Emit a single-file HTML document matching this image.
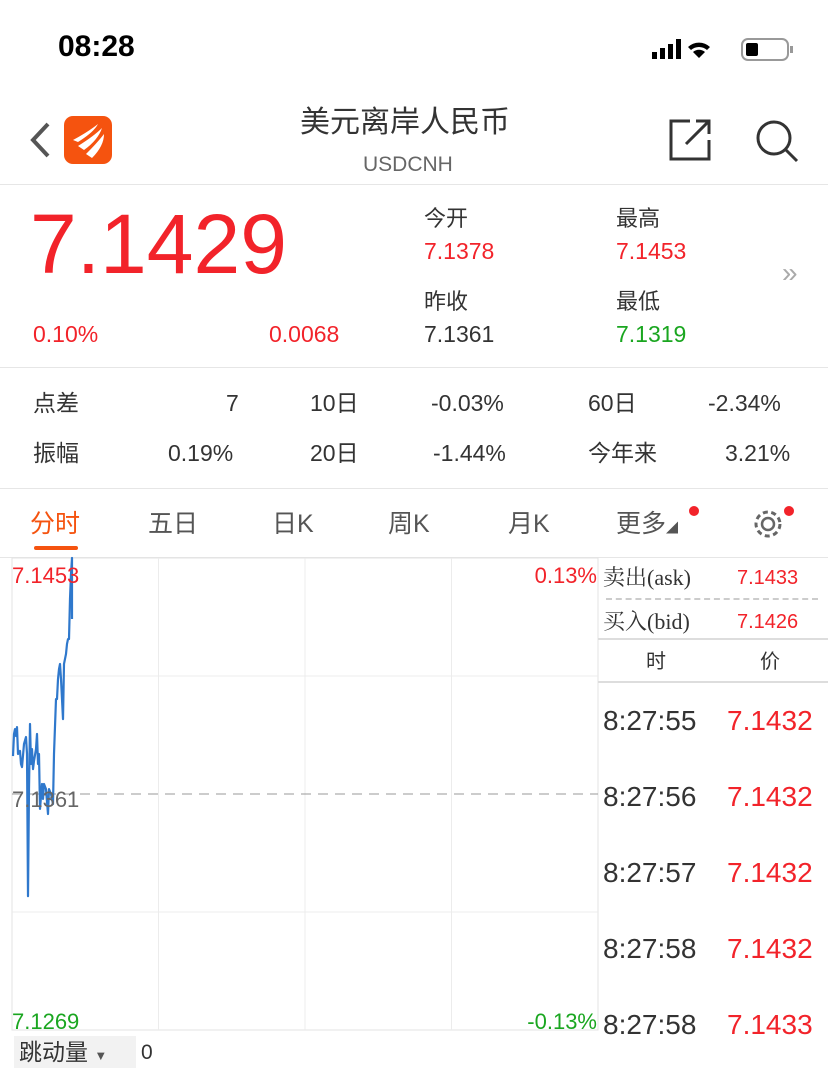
<!DOCTYPE html>
<html><head><meta charset="utf-8"><style>
*{margin:0;padding:0;box-sizing:border-box}
body{width:828px;height:1073px;background:#fff;font-family:"Liberation Sans","Noto Sans CJK SC",sans-serif;color:#333;position:relative;overflow:hidden}
.a{position:absolute;white-space:nowrap;line-height:30px}
.r{color:#f2232a}.g{color:#1aa620}
.hl{position:absolute;height:1px;background:#e6e6e6}
</style></head><body>
<div class="a" style="left:58px;top:32px;font-size:30px;font-weight:bold;color:#000">08:28</div>
<div class="a" style="left:652px;top:38px">
 <svg width="145" height="24"><rect x="0" y="14" width="5" height="7" fill="#000"/><rect x="8" y="10" width="5" height="11" fill="#000"/><rect x="16" y="6" width="5" height="15" fill="#000"/><rect x="24" y="1" width="5" height="20" fill="#000"/>
 <path d="M47 20 L41 14 A9 9 0 0 1 53 14Z M36 9 A16 16 0 0 1 58 9 L55 12 A12 12 0 0 0 39 12Z" fill="#000"/>
 <rect x="90" y="1" width="46" height="21" rx="6" fill="none" stroke="#999" stroke-width="2"/><rect x="94" y="5" width="12" height="13" rx="2" fill="#000"/><rect x="138" y="8" width="3" height="7" fill="#999"/></svg></div>
<svg class="a" style="left:28px;top:120px" width="24" height="40"><path d="M20 4 L5 20 L20 36" stroke="#555" stroke-width="4" fill="none"/></svg>
<div class="a" style="left:64px;top:116px;width:48px;height:48px;border-radius:9px;background:#f5530f"><svg width="48" height="48"><path d="M9 24 Q24 16 34 8 Q30 16 14 26Z M14 30 Q30 20 38 12 Q34 24 20 34Z M22 38 Q34 26 40 18 Q40 30 28 42Z" fill="#fff"/></svg></div>
<div class="a" style="left:300px;top:108px;font-size:30px;color:#333">美元离岸人民币</div>
<div class="a" style="left:363px;top:150px;font-size:21px;color:#666">USDCNH</div>
<svg class="a" style="left:668px;top:118px" width="46" height="44"><path d="M22 3 H3 V41 H41 V22" stroke="#333" stroke-width="3" fill="none"/><path d="M18 26 L41 3 M28 3 H41 V16" stroke="#333" stroke-width="3" fill="none"/></svg>
<svg class="a" style="left:754px;top:118px" width="46" height="46"><circle cx="20" cy="20" r="16" stroke="#333" stroke-width="3" fill="none"/><path d="M32 32 L43 43" stroke="#333" stroke-width="3"/></svg>
<div class="hl" style="left:0;top:184px;width:828px"></div>
<div class="a r" style="left:30px;top:194px;font-size:84px;line-height:100px">7.1429</div>
<div class="a r" style="left:33px;top:319px;font-size:23px">0.10%</div>
<div class="a r" style="left:269px;top:319px;font-size:23px">0.0068</div>
<div class="a" style="left:424px;top:204px;font-size:22px">今开</div>
<div class="a r" style="left:424px;top:236px;font-size:23px">7.1378</div>
<div class="a" style="left:424px;top:287px;font-size:22px">昨收</div>
<div class="a" style="left:424px;top:319px;font-size:23px">7.1361</div>
<div class="a" style="left:616px;top:204px;font-size:22px">最高</div>
<div class="a r" style="left:616px;top:236px;font-size:23px">7.1453</div>
<div class="a" style="left:616px;top:287px;font-size:22px">最低</div>
<div class="a g" style="left:616px;top:319px;font-size:23px">7.1319</div>
<div class="a" style="left:782px;top:258px;font-size:28px;color:#aaa">»</div>
<div class="hl" style="left:0;top:367px;width:828px"></div>
<div style="font-size:23px;color:#333">
<div class="a" style="left:33px;top:388px">点差</div><div class="a" style="left:226px;top:388px">7</div>
<div class="a" style="left:310px;top:388px">10日</div><div class="a" style="left:431px;top:388px">-0.03%</div>
<div class="a" style="left:588px;top:388px">60日</div><div class="a" style="left:708px;top:388px">-2.34%</div>
<div class="a" style="left:33px;top:438px">振幅</div><div class="a" style="left:168px;top:438px">0.19%</div>
<div class="a" style="left:310px;top:438px">20日</div><div class="a" style="left:433px;top:438px">-1.44%</div>
<div class="a" style="left:588px;top:438px">今年来</div><div class="a" style="left:725px;top:438px">3.21%</div>
</div>
<div class="hl" style="left:0;top:488px;width:828px"></div>
<div style="font-size:25px;color:#555">
<div class="a" style="left:30px;top:509px;color:#f5530f">分时</div>
<div class="a" style="left:34px;top:546px;width:44px;height:4px;border-radius:2px;background:#f5530f"></div>
<div class="a" style="left:148px;top:509px">五日</div>
<div class="a" style="left:272px;top:509px">日K</div>
<div class="a" style="left:388px;top:509px">周K</div>
<div class="a" style="left:508px;top:509px">月K</div>
<div class="a" style="left:616px;top:509px">更多<span style="font-size:12px">◢</span></div>
<div class="a" style="left:689px;top:506px;width:10px;height:10px;border-radius:5px;background:#f2232a"></div>
<svg class="a" style="left:752px;top:508px" width="34" height="34"><circle cx="16" cy="16" r="6" stroke="#666" stroke-width="2.5" fill="none"/><circle cx="16" cy="16" r="12" stroke="#666" stroke-width="3" fill="none" stroke-dasharray="5 3.5"/></svg>
<div class="a" style="left:784px;top:506px;width:10px;height:10px;border-radius:5px;background:#f2232a"></div>
</div>
<div class="hl" style="left:0;top:557px;width:828px"></div>
<svg class="a" id="chart" style="left:0;top:0" width="828" height="1073"></svg>
<div class="a" style="left:14px;top:1036px;width:122px;height:32px;background:#f2f2f2;font-size:23px;padding-left:5px;line-height:32px">跳动量 <span style="font-size:13px;color:#555">▼</span></div>
<div class="a" style="left:141px;top:1038px;font-size:21px">0</div>
<div>
<div class="a" style="left:603px;top:563px;font-size:22px;font-family:'Liberation Serif','Noto Serif CJK SC',serif">卖出(ask)</div>
<div class="a r" style="left:737px;top:563px;font-size:20px">7.1433</div>
<div class="a" style="left:606px;top:598px;width:212px;border-top:2px dashed #ccc"></div>
<div class="a" style="left:603px;top:607px;font-size:22px;font-family:'Liberation Serif','Noto Serif CJK SC',serif">买入(bid)</div>
<div class="a r" style="left:737px;top:607px;font-size:20px">7.1426</div>
<div class="a" style="left:598px;top:638px;width:230px;height:2px;background:#ddd"></div>
<div class="a" style="left:646px;top:647px;font-size:20px">时</div><div class="a" style="left:760px;top:647px;font-size:20px">价</div>
<div class="a" style="left:598px;top:681px;width:230px;height:2px;background:#ddd"></div>
<div id="ticks"></div>
</div>
<script>
const tickTimes=["8:27:55","8:27:56","8:27:57","8:27:58","8:27:58"];
const tickPrices=["7.1432","7.1432","7.1432","7.1432","7.1433"];
const minutes=[1,2,3,4,5,6,8,9,10,12,14,15,16,17,18,19,20,21,22,24,25,26,27,28,30,31,32,34,36,37,39,41,42,44,45,46,47,48,49,51,52,54,55,56,57,58,59,60,60];
const prices=[7.13758,7.13844,7.13863,7.13836,7.13871,7.13766,7.13778,7.13727,7.13715,7.13805,7.13832,7.13766,7.13212,7.13629,7.13883,7.13727,7.13785,7.13707,7.13739,7.13785,7.13844,7.13727,7.13766,7.13552,7.13649,7.13591,7.13649,7.13629,7.13532,7.13629,7.1361,7.13571,7.13766,7.1398,7.1398,7.14058,7.14097,7.14117,7.14058,7.13902,7.14117,7.14156,7.14195,7.14214,7.14214,7.1437,7.14468,7.1453,7.14292];
const yTop=7.1453,yBot=7.1269,prevClose=7.1361;
const X0=12,X1=598,Y0=558,Y1=1030,NMIN=586;
const xs=m=>X0+m*(X1-X0)/NMIN, ys=v=>Y1-(v-yBot)/(yTop-yBot)*(Y1-Y0);
const svg=document.getElementById('chart');const NS='http://www.w3.org/2000/svg';
function mk(t,a){const e=document.createElementNS(NS,t);for(const k in a)e.setAttribute(k,a[k]);svg.appendChild(e);return e;}
let g=mk('rect',{x:X0,y:Y0,width:X1-X0,height:Y1-Y0,fill:'none',stroke:'#e3e3e3'});


for(let i=1;i<4;i++){let l=mk('line',{x1:X0+i*(X1-X0)/4,x2:X0+i*(X1-X0)/4,y1:Y0,y2:Y1,stroke:'#ececec'});

}
[0.25,0.75].forEach(f=>{let l=mk('line',{x1:X0,x2:X1,y1:Y0+f*(Y1-Y0),y2:Y0+f*(Y1-Y0),stroke:'#ececec'});

});
let pc=mk('line',{x1:X0,x2:X1,y1:ys(prevClose),y2:ys(prevClose),stroke:'#999','stroke-dasharray':'10 7'});


let p=mk('polyline',{points:minutes.map((m,i)=>xs(m)+','+ys(prices[i])).join(' '),fill:'none',stroke:'#2f78cc','stroke-width':2.2,'stroke-linejoin':'round'});


function txt(s,x,y,c,anchor,name){const t=mk('text',{x:x,y:y,fill:c,'font-size':22,'text-anchor':anchor||'start','font-family':'Liberation Sans, sans-serif'});t.textContent=s;

}
txt(yTop.toFixed(4),12,583,'#f2232a','start','y-max-label');
txt(prevClose.toFixed(4),12,807,'#666','start','y-mid-label');
txt(yBot.toFixed(4),12,1029,'#1aa620','start','y-min-label');
txt('0.13%',597,583,'#f2232a','end','pct-max-label');
txt('-0.13%',597,1029,'#1aa620','end','pct-min-label');
const tk=document.getElementById('ticks');
tickTimes.forEach((t,i)=>{const y=704+i*76;
const a=document.createElement('div');a.className='a';a.style.cssText=`left:603px;top:${y}px;font-size:28px;color:#333;line-height:34px`;a.textContent=t;


const b=document.createElement('div');b.className='a r';b.style.cssText=`left:727px;top:${y}px;font-size:28px;line-height:34px`;b.textContent=tickPrices[i];


tk.appendChild(a);tk.appendChild(b);});
</script>
</body></html>
